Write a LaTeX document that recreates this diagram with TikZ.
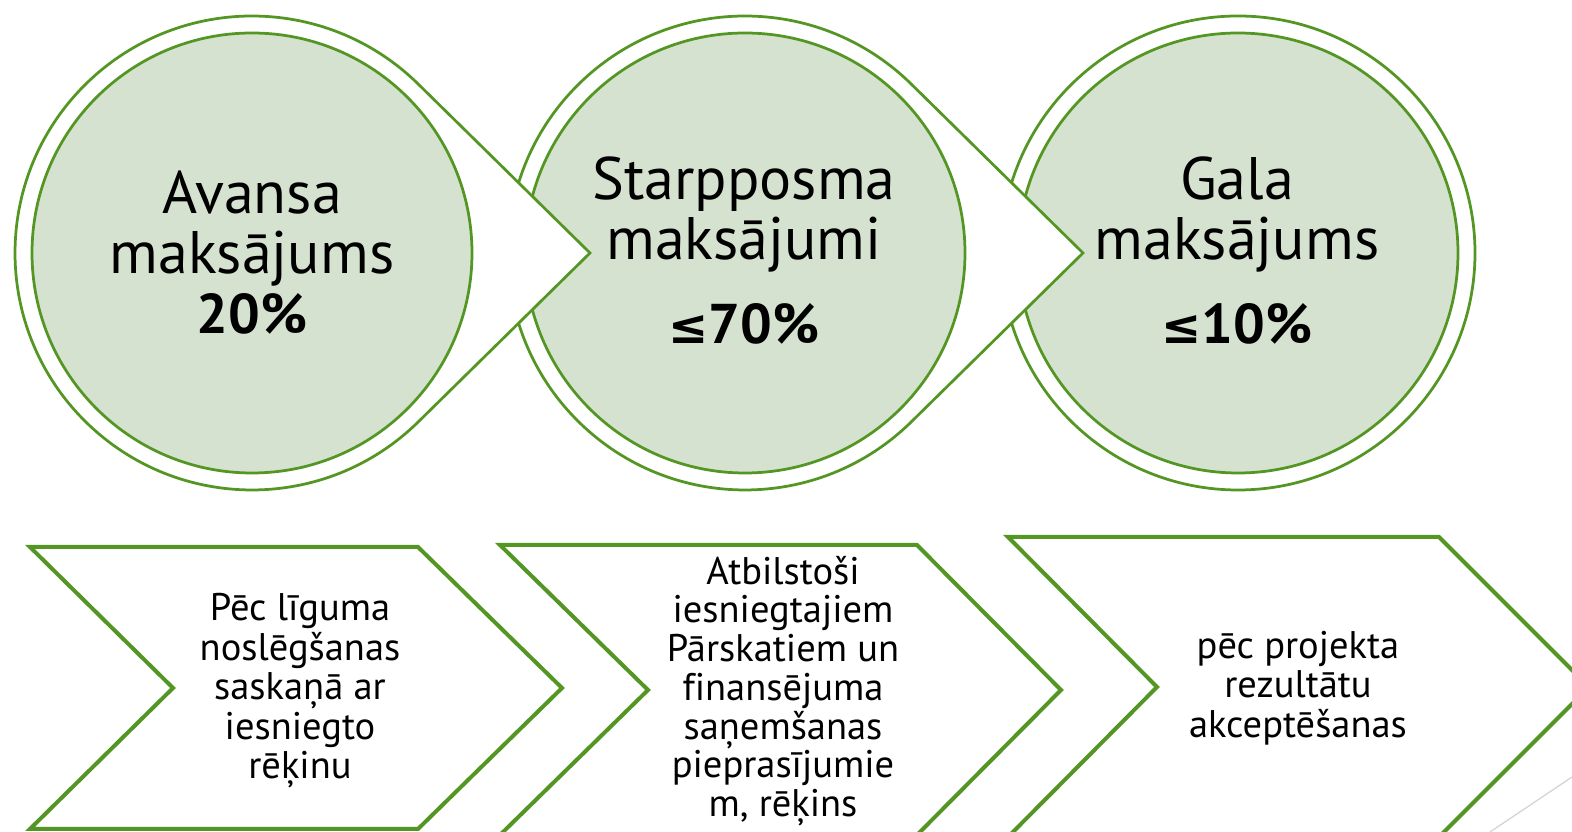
\documentclass[tikz,border=0pt]{standalone}
\usepackage{fontspec}
\setmainfont{PT Sans}[Ligatures={NoCommon}]
\newfontfamily\symfont{DejaVu Sans}
\usetikzlibrary{calc}
\definecolor{lgreen}{RGB}{84,150,35}
\definecolor{lfill}{RGB}{214,226,208}
\newcommand{\myle}{{\fontsize{48}{60}\symfont\bfseries ≤}}
\newcommand{\pct}[1]{{\fontsize{56}{60}\selectfont\bfseries #1}}
\begin{document}
\begin{tikzpicture}[x=1pt,y=1pt,
  ring/.style={draw=lgreen, line width=2.75pt, fill=white, line join=miter},
  core/.style={draw=lgreen, line width=2.75pt, fill=lfill},
  chev/.style={draw=lgreen, line width=4pt, fill=white, line join=miter},
  big/.style={font=\fontsize{60}{60}\selectfont, align=center, inner sep=0pt},
  small/.style={font=\fontsize{38.5}{39.5}\selectfont, align=center, inner sep=0pt},
  smalltight/.style={font=\fontsize{38.5}{38.7}\selectfont, align=center, inner sep=0pt},
  deco/.style={draw=gray!35, line width=1.2pt}]
\useasboundingbox (0,0) rectangle (1572,832);
\clip (0,0) rectangle (1572,832);
\coordinate (c1) at (252,579);
\coordinate (c2) at (745,579);
\coordinate (c3) at (1238,579);
\coordinate (t1) at (590,579);
\coordinate (t2) at (1083,579);
% circle 3
\draw[ring] (c3) circle[radius=237];
\draw[core] (c3) circle[radius=220];
% circle 2
\draw[ring] (t2) -- ($(c2)+(45.5:237)$) arc[start angle=45.5,end angle=314.5,radius=237] -- cycle;
\draw[core] (c2) circle[radius=220];
% circle 1
\draw[ring] (t1) -- ($(c1)+(45.5:237)$) arc[start angle=45.5,end angle=314.5,radius=237] -- cycle;
\draw[core] (c1) circle[radius=220];
\node[big] (a1) at (252,579) {Avansa\\maksājums\\\pct{20\%}};
\node[big] (a2) at (744,581) {Starpposma\\maksājumi\\[24pt]\pct{\myle70\%}};
\node[big] (a3) at (1237,581) {Gala\\maksājums\\[24pt]\pct{\myle10\%}};
% chevrons
\draw[chev] (30,285) -- (418,285) -- (562,144) -- (418,3) -- (30,3) -- (173,144) -- cycle;
\draw[chev] (500,287) -- (917,287) -- (1061,142) -- (917,-3) -- (500,-3) -- (648,142) -- cycle;
\draw[chev] (1008,295) -- (1439,295) -- (1589,145) -- (1439,-5) -- (1008,-5) -- (1157,145) -- cycle;
\node[small] (b1) at (300,141) {Pēc līguma\\noslēgšanas\\saskaņā ar\\iesniegto\\rēķinu};
\node[smalltight] (b2) at (783,141) {Atbilstoši\\iesniegtajiem\\Pārskatiem un\\finansējuma\\saņemšanas\\pieprasījumie\\m, rēķins};
\node[small] (b3) at (1298,144) {pēc projekta\\rezultātu\\akceptēšanas};
\coordinate (g1) at (1490,0);
\coordinate (g2) at (1572,55);
\draw[deco] (g1) -- (g2);
\end{tikzpicture}
\end{document}
